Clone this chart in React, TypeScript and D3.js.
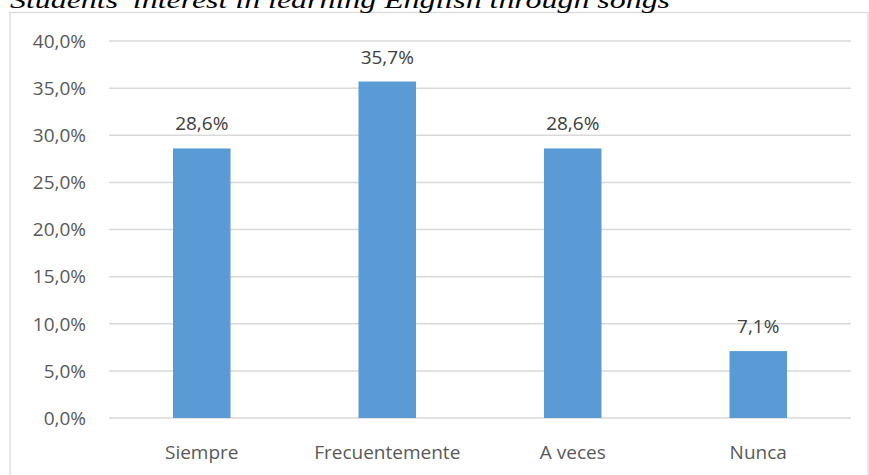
import React from "react";
import * as d3 from "d3";

const categories = ["Siempre", "Frecuentemente", "A veces", "Nunca"];
const values = [28.6, 35.7, 28.6, 7.1];
const valueLabels = ["28,6%", "35,7%", "28,6%", "7,1%"];
const yTicks = [0, 5, 10, 15, 20, 25, 30, 35, 40];
const title = "Students' interest in learning English through songs";

const W = 869;
const H = 475;
const left = 109;
const right = 851;
const top = 41;
const bottom = 418;

const fmt = (v: number) => v.toFixed(1).replace(".", ",") + "%";

export default function App() {
  const x = d3.scaleBand<string>().domain(categories).range([left, right]).paddingInner(0.69).paddingOuter(0.345);
  const y = d3.scaleLinear().domain([0, 40]).range([bottom, top]);
  const font = "'Open Sans', 'Noto Sans', sans-serif";
  return (
    <svg width={W} height={H} style={{ position: "absolute", left: 0, top: 0, background: "#fff" }}>
      <rect x={10} y={12.5} width={858} height={500} fill="#fff" stroke="#d9d9d9" strokeWidth={1.2} />
      <g transform="translate(10,7.5) scale(1,0.7)">
        <text x={0} y={0} fontFamily="'Liberation Serif', 'Times New Roman', serif" fontStyle="italic" fontSize={32} fill="#000" textLength={660} lengthAdjust="spacingAndGlyphs">
          {title}
        </text>
      </g>
      {yTicks.map((t) => (
        <g key={t}>
          <line x1={left} x2={right} y1={y(t)} y2={y(t)} stroke="#d9d9d9" strokeWidth={1.5} />
          <text x={86} y={y(t)} dy="0.36em" textAnchor="end" fontFamily={font} fontSize={19} fill="#595959">
            {fmt(t)}
          </text>
        </g>
      ))}
      {categories.map((c, i) => (
        <g key={c}>
          <rect x={x(c)} y={y(values[i])} width={x.bandwidth()} height={y(0) - y(values[i])} fill="#5b9bd5" />
          <text x={(x(c) as number) + x.bandwidth() / 2} y={y(values[i]) - 18} textAnchor="middle" fontFamily={font} fontSize={19} fill="#404040">
            {valueLabels[i]}
          </text>
          <text x={(x(c) as number) + x.bandwidth() / 2} y={459} textAnchor="middle" fontFamily={font} fontSize={19} fill="#595959">
            {c}
          </text>
        </g>
      ))}
    </svg>
  );
}
